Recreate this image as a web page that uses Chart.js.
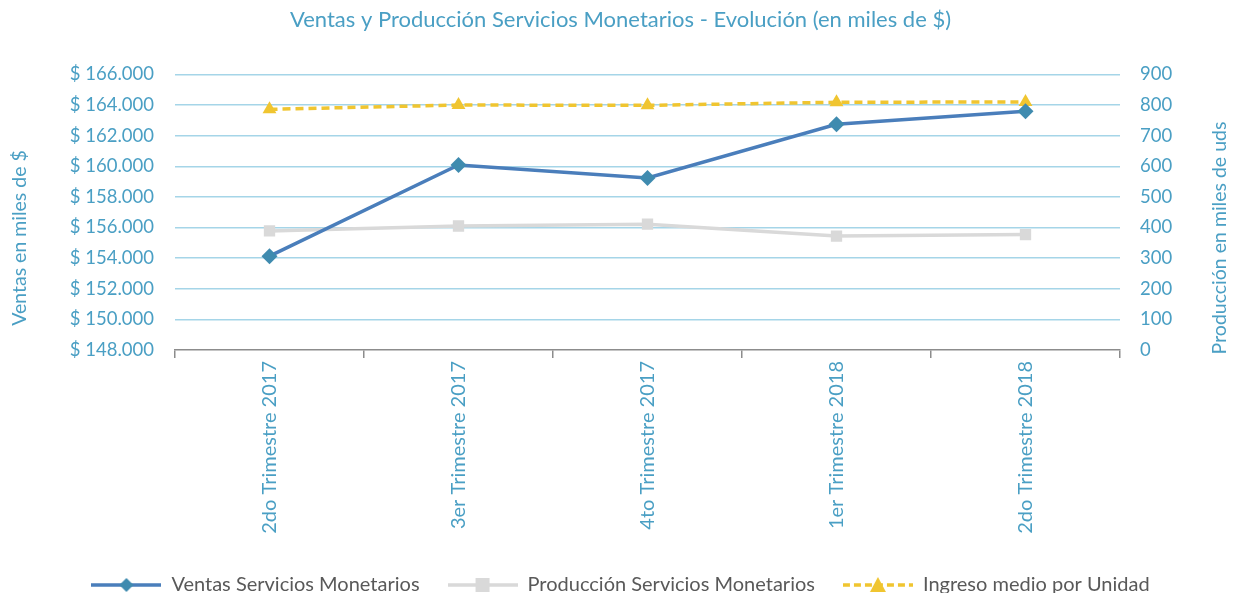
<!DOCTYPE html>
<html><head><meta charset="utf-8">
<script src="https://cdn.jsdelivr.net/npm/chart.js@4/dist/chart.umd.min.js"></script>
<style>html,body{margin:0;padding:0;background:#fff}#wrap{width:1241px;height:593px}</style>
</head><body><div id="wrap"><canvas id="c" width="1241" height="593"></canvas></div>
<script>
const categories = ['2do Trimestre 2017','3er Trimestre 2017','4to Trimestre 2017','1er Trimestre 2018','2do Trimestre 2018'];
const ventas = [154130, 160080, 159230, 162740, 163600];
const produccion = [389, 405, 411, 372, 377];
const ingreso = [786, 800, 799, 809, 810];
const seriesNames = ['Ventas Servicios Monetarios','Producción Servicios Monetarios','Ingreso medio por Unidad'];
const titleText = 'Ventas y Producción Servicios Monetarios - Evolución (en miles de $)';
const leftTitle = 'Ventas en miles de $';
const rightTitle = 'Producción en miles de uds';

const TXT = '#4A9FC4';
const FONT = 'Lato';
const C_V = '#4A7EBB', C_VM = '#3F8BAF', C_P = '#D9D9D9', C_I = '#F0C530';

function legendImg(color, mColor, style, dash){
  const c = document.createElement('canvas'); c.width = 70; c.height = 18;
  const x = c.getContext('2d');
  x.strokeStyle = color; x.lineWidth = 3.5; x.setLineDash(dash||[]);
  x.beginPath(); x.moveTo(0,9); x.lineTo(70,9); x.stroke(); x.setLineDash([]);
  x.fillStyle = mColor;
  x.beginPath();
  if(style==='d'){ x.moveTo(35,2); x.lineTo(42,9); x.lineTo(35,16); x.lineTo(28,9); }
  else if(style==='s'){ x.rect(28,2,14,14); }
  else { x.moveTo(35,1); x.lineTo(43,16); x.lineTo(27,16); }
  x.closePath(); x.fill();
  return c;
}
const legImgs = [legendImg(C_V,C_VM,'d'), legendImg(C_P,C_P,'s'), legendImg(C_I,C_I,'t',[7,4])];

const axisTitles = {
  id:'axisTitles',
  afterDraw(chart){
    const ctx = chart.ctx; ctx.save();
    ctx.fillStyle = TXT; ctx.font = '19.5px ' + FONT;
    ctx.textAlign = 'center'; ctx.textBaseline = 'middle';
    [[20, leftTitle],[1220, rightTitle]].forEach(([x,t])=>{
      ctx.save(); ctx.translate(x, 238); ctx.rotate(-Math.PI/2); ctx.fillText(t,0,0); ctx.restore();
    });
    ctx.restore();
  }
};

new Chart(document.getElementById('c'), {
  type:'line',
  data:{
    labels: categories,
    datasets:[
      {label:seriesNames[0], data:ventas, yAxisID:'y', borderColor:C_V, backgroundColor:C_VM, borderWidth:3.5,
       pointStyle:'rectRot', pointRadius:8, pointBackgroundColor:C_VM, pointBorderColor:C_VM, pointBorderWidth:0, tension:0},
      {label:seriesNames[1], data:produccion, yAxisID:'y1', borderColor:C_P, backgroundColor:C_P, borderWidth:3.5,
       pointStyle:'rect', pointRadius:8, pointBackgroundColor:C_P, pointBorderColor:C_P, pointBorderWidth:0, tension:0},
      {label:seriesNames[2], data:ingreso, yAxisID:'y1', borderColor:C_I, backgroundColor:C_I, borderWidth:3.5, borderDash:[8,5],
       pointStyle:'triangle', pointRadius:8, pointBackgroundColor:C_I, pointBorderColor:C_I, pointBorderWidth:0, tension:0}
    ]
  },
  options:{
    responsive:false, animation:false, devicePixelRatio:1,
    layout:{padding:{left:0,right:0,top:0,bottom:-12}},
    plugins:{
      title:{display:true, text:titleText, color:TXT, font:{family:FONT, size:22, weight:'normal'}, padding:{top:7,bottom:41}},
      legend:{position:'bottom', labels:{usePointStyle:true, pointStyleWidth:70, color:'#595959', padding:28,
        font:{family:FONT, size:20},
        generateLabels(chart){
          const items = Chart.defaults.plugins.legend.labels.generateLabels(chart);
          items.forEach((it,i)=>{ it.pointStyle = legImgs[i]; });
          return items;
        }}},
      tooltip:{enabled:false}
    },
    scales:{
      x:{offset:true,
         grid:{offset:true, drawOnChartArea:false, drawTicks:true, tickLength:8, color:'#8C8C8C', lineWidth:1.5},
         border:{display:true, color:'#8C8C8C', width:1.5},
         ticks:{color:TXT, font:{family:FONT, size:20}, minRotation:90, maxRotation:90, padding:3, autoSkip:false},
         afterFit(s){ s.height = 197; }},
      y:{position:'left', min:148000, max:166000,
         grid:{color:(c)=> c.tick && c.tick.value===148000 ? 'rgba(0,0,0,0)' : '#A5D5E8', lineWidth:1.5, drawTicks:false},
         border:{display:false},
         ticks:{stepSize:2000, color:TXT, font:{family:FONT, size:18.5}, padding:21,
                callback:(v)=> '$ ' + v.toLocaleString('de-DE')},
         afterFit(s){ s.width = 175; }},
      y1:{position:'right', min:0, max:900,
         grid:{drawOnChartArea:false, drawTicks:false},
         border:{display:false},
         ticks:{stepSize:100, color:TXT, font:{family:FONT, size:18.5}, padding:20},
         afterFit(s){ s.width = 121; }}
    }
  },
  plugins:[axisTitles]
});
</script>
</body></html>
